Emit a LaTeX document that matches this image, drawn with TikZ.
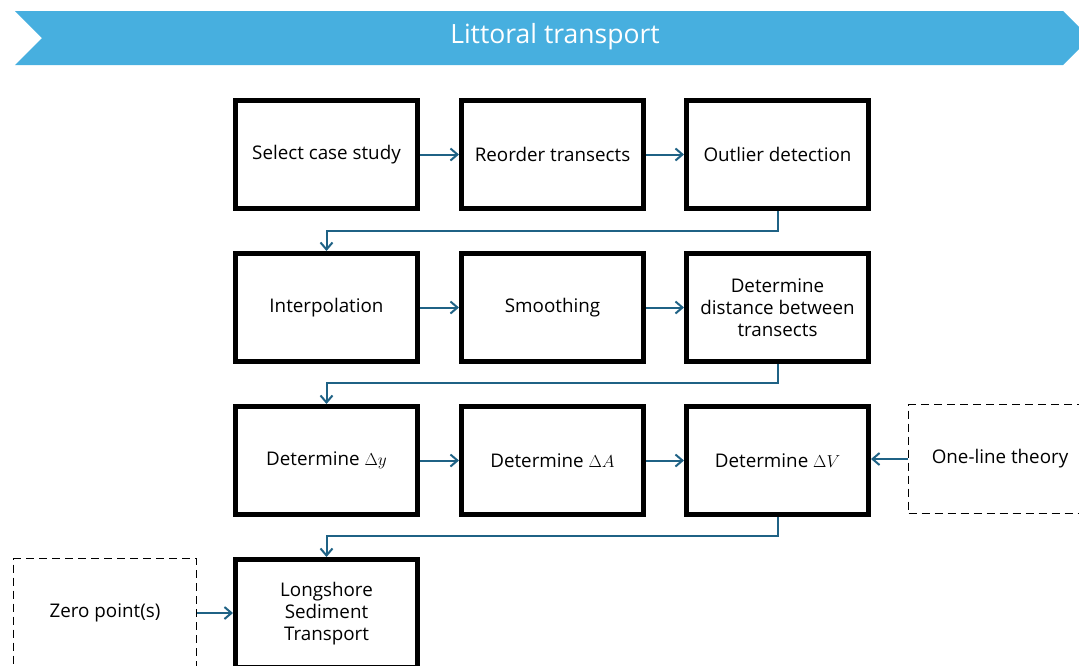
\documentclass[tikz,border=0pt]{standalone}
\usepackage{fontspec}
\setmainfont{Open Sans}
\usetikzlibrary{arrows.meta}
\definecolor{bannercol}{RGB}{71,175,223}
\definecolor{conncol}{RGB}{31,98,133}
\begin{document}
\begin{tikzpicture}[x=1pt,y=-1pt,
  proc/.style={draw=black, line width=5pt, minimum width=182pt, minimum height=108pt,
    align=center, inner sep=0pt, font=\fontsize{18.8}{22}\selectfont},
  ext/.style={draw=black, line width=1.8pt, dash pattern=on 8pt off 5pt,
    minimum width=183pt, minimum height=109pt, align=center, inner sep=0pt,
    font=\fontsize{18.8}{22}\selectfont},
  conn/.style={draw=conncol, line width=2pt, -{Straight Barb[length=7pt,width=12pt,line width=2pt]}},
  title/.style={text=white, font=\fontsize{26.5}{30}\selectfont}]
\useasboundingbox (0,0) rectangle (1079,665);
\fill[bannercol] (15,11) -- (1063,11) -- (1090,38) -- (1063,65) -- (15,65) -- (42,38) -- cycle;
\node[title] (t) at (555,37) {Littoral transport};

\node[proc] (b1) at (326.5,154.5) {Select case study};
\node[proc] (b2) at (552.5,154.5) {Reorder transects};
\node[proc] (b3) at (777.5,154.5) {Outlier detection};
\node[proc] (b4) at (326.5,307.5) {Interpolation};
\node[proc] (b5) at (552.5,307.5) {Smoothing};
\node[proc] (b6) at (777.5,307.5) {Determine\\distance between\\transects};
\node[proc] (b7) at (326.5,460.5) {Determine $\Delta y$};
\node[proc] (b8) at (552.5,460.5) {Determine $\Delta A$};
\node[proc] (b9) at (777.5,460.5) {Determine $\Delta V$};
\node[proc] (b10) at (326.5,613.5) {Longshore\\Sediment\\Transport};
\node[ext] (ol) at (1000,459) {One-line theory};
\node[ext] (zp) at (105,613) {Zero point(s)};

\draw[conn] (b1) -- (b2);
\draw[conn] (b2) -- (b3);
\draw[conn] (b3.south) -- ++(0,20) -| (b4.north);
\draw[conn] (b4) -- (b5);
\draw[conn] (b5) -- (b6);
\draw[conn] (b6.south) -- ++(0,19) -| (b7.north);
\draw[conn] (b7) -- (b8);
\draw[conn] (b8) -- (b9);
\draw[conn] (b9.south) -- ++(0,19) -| (b10.north);
\draw[conn] (ol.west) -- (ol.west -| b9.east);
\draw[conn] (zp.east) -- (zp.east -| b10.west);
\end{tikzpicture}
\end{document}
